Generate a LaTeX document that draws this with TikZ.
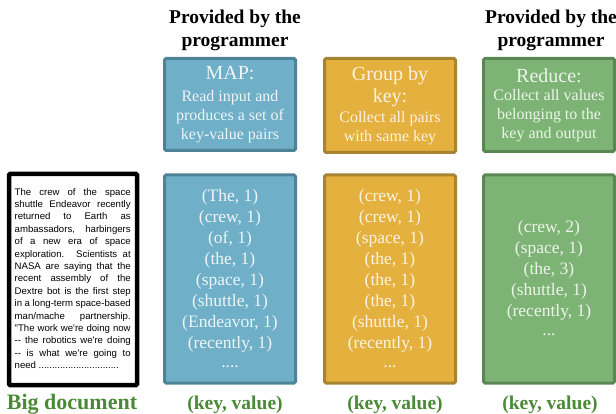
\documentclass[tikz,border=0pt]{standalone}
\usepackage{fontspec}
\setmainfont{Liberation Serif}
\newfontfamily\docfont{Liberation Sans}
\definecolor{blueF}{HTML}{6FAFC7}
\definecolor{blueD}{HTML}{4E8296}
\definecolor{orangeF}{HTML}{E4B13F}
\definecolor{orangeD}{HTML}{A7842F}
\definecolor{greenF}{HTML}{7DB475}
\definecolor{greenD}{HTML}{5B8755}
\definecolor{labelG}{HTML}{4A8A37}
\tikzset{
  box/.style={draw, line width=3pt, rounded corners=1.5pt, inner sep=0pt, align=center},
  topbox/.style={box, minimum width=131pt, minimum height=92pt, font=\fontsize{16}{19}\selectfont},
  botbox/.style={box, minimum width=131pt, minimum height=208pt,
    font=\fontsize{17.5}{21}\selectfont},
  title/.style={font=\fontsize{19.5}{24}\selectfont\bfseries, anchor=base, inner sep=0pt},
  lab/.style={font=\fontsize{19.5}{22}\selectfont\bfseries, text=labelG, anchor=base, inner sep=0pt},
}
\newcommand{\hd}[1]{{\fontsize{20}{20}\selectfont #1}}
\begin{document}
\begin{tikzpicture}[x=1pt,y=-1pt]
\useasboundingbox (0,0) rectangle (616,414);
% titles
\node[title] (t1a) at (235,24) {Provided by the};
\node[title] (t1b) at (235,47) {programmer};
\node[title] (t3a) at (551,24) {Provided by the};
\node[title] (t3b) at (551,47) {programmer};
% top boxes
\node[topbox, fill=blueF, draw=blueD, text=white!88!blueF] (map) at (230,104.5)
  {\hd{MAP:}\\[3pt]Read input and\\produces a set of\\key-value pairs};
\node[topbox, fill=orangeF, draw=orangeD, text=white!85!orangeF, minimum height=94pt] (grp) at (390,105.5)
  {\hd{Group by}\\[3pt]\hd{key:}\\[1pt]Collect all pairs\\with same key};
\node[topbox, fill=greenF, draw=greenD, text=white!85!greenF, minimum height=93pt] (red) at (549,105)
  {\hd{Reduce:}\\[-1pt]Collect all values\\belonging to the\\key and output};
% document
\node[draw=black, line width=4.5pt, rounded corners=1pt, minimum width=128pt, minimum height=211pt, inner sep=0pt] (doc) at (73,279.5) {};
\node[anchor=north west, inner sep=0pt, text width=116pt, align=justify, font=\docfont\fontsize{9.6}{12.4}\selectfont] (doctext) at (14.5,188)
  {The crew of the space\linebreak
   shuttle Endeavor recently\linebreak
   returned to Earth as\linebreak
   ambassadors, harbingers\linebreak
   of a new era of space\linebreak
   exploration. Scientists at\linebreak
   NASA are saying that the\linebreak
   recent assembly of the\linebreak
   Dextre bot is the first step\linebreak
   in a long-term space-based\linebreak
   man/mache partnership.\linebreak
   "The work we're doing now\linebreak
   -- the robotics we're doing\linebreak
   -- is what we're going to\linebreak
   need ..............................\par};
% bottom boxes
\node[botbox, fill=blueF, draw=blueD, text=white!88!blueF] (mapout) at (230,279)
  {(The, 1)\\(crew, 1)\\(of, 1)\\(the, 1)\\(space, 1)\\(shuttle, 1)\\(Endeavor, 1)\\(recently, 1)\\\raisebox{2pt}{....}};
\node[botbox, fill=orangeF, draw=orangeD, text=white!85!orangeF] (grpout) at (390,279)
  {(crew, 1)\\(crew, 1)\\(space, 1)\\(the, 1)\\(the, 1)\\(the, 1)\\(shuttle, 1)\\(recently, 1)\\\raisebox{2pt}{...}};
\node[botbox, fill=greenF, draw=greenD, text=white!85!greenF] (redout) at (549,279)
  {(crew, 2)\\(space, 1)\\(the, 3)\\(shuttle, 1)\\(recently, 1)\\\raisebox{2pt}{...}};
% labels
\node[lab, font=\fontsize{22}{24}\selectfont\bfseries] (lbig) at (72,409) {Big document};
\node[lab] (l1) at (235,409) {(key, value)};
\node[lab] (l2) at (395,409) {(key, value)};
\node[lab] (l3) at (550,409) {(key, value)};
\end{tikzpicture}
\end{document}
